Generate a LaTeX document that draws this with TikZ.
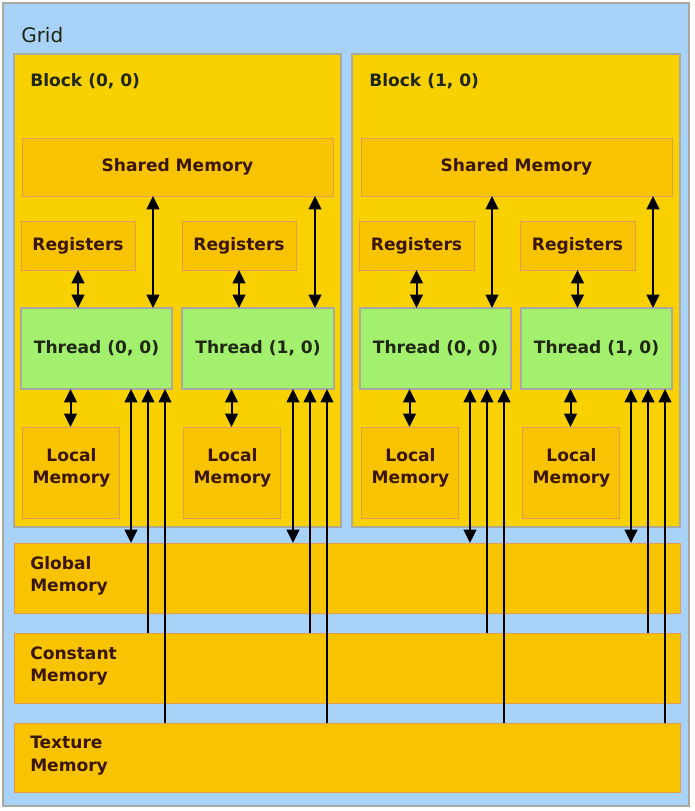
\documentclass[tikz,border=0pt]{standalone}
\usepackage{fontspec}
\setmainfont{DejaVu Sans}
\usetikzlibrary{arrows.meta,calc}
\definecolor{gridbg}{HTML}{A8D2F8}
\definecolor{blockfill}{HTML}{F9D100}
\definecolor{memfill}{HTML}{F8C300}
\definecolor{thrfill}{HTML}{A3F06F}
\definecolor{memborder}{HTML}{E49A50}
\definecolor{greyborder}{HTML}{A9A9A0}
\definecolor{labeltext}{HTML}{1F2710}
\definecolor{memtext}{HTML}{3A1600}
\newcommand\pxbox[7]{\node[#1, minimum width={#5*0.75pt}, minimum height={#6*0.75pt}] (#2) at (#3,#4) {#7};}
\begin{document}
\begin{tikzpicture}[x=0.75pt,y=-0.75pt,
  base/.style={anchor=north west, inner sep=0pt, outer sep=0pt},
  gridbox/.style={base, fill=gridbg, draw=greyborder, line width=1.1pt},
  blockbox/.style={base, fill=blockfill, draw=greyborder, line width=0.8pt},
  membox/.style={base, fill=memfill, draw=memborder, line width=0.7pt,
     font=\fontsize{12.8pt}{16.5pt}\selectfont\bfseries, text=memtext, align=center},
  thrbox/.style={base, fill=thrfill, draw=greyborder, line width=0.8pt,
     font=\fontsize{12.8pt}{16.5pt}\selectfont\bfseries, text=labeltext},
  lbl/.style={anchor=west, inner sep=0pt, font=\fontsize{12.8pt}{16.5pt}\selectfont\bfseries, text=labeltext},
  memlbl/.style={anchor=west, inner sep=0pt, align=left, font=\fontsize{12.8pt}{17pt}\selectfont\bfseries, text=memtext},
  loclbl/.style={inner sep=0pt, align=center, font=\fontsize{12.8pt}{16.5pt}\selectfont\bfseries, text=memtext},
  tip/.tip={Triangle[width=9.5pt,length=10pt]},
  dbl/.style={line width=1.5pt, tip-tip},
  sgl/.style={line width=1.5pt, -tip},
]
\useasboundingbox (0,0) rectangle (694,811);
% grid
\pxbox{gridbox}{grid}{3}{3}{686}{803}{}
\node[anchor=west, inner sep=0pt, font=\fontsize{15pt}{17pt}\selectfont, text=labeltext] (gridlbl) at (21,35) {Grid};
% blocks
\pxbox{blockbox}{blk0}{14}{54}{327}{473}{}
\pxbox{blockbox}{blk1}{352}{54}{328}{473}{}
\node[lbl] (blk0lbl) at (30,81) {Block (0, 0)};
\node[lbl] (blk1lbl) at (369,81) {Block (1, 0)};
% shared memory
\pxbox{membox}{sh0}{22}{138}{311}{58}{Shared Memory}
\pxbox{membox}{sh1}{361}{138}{311}{58}{Shared Memory}
% registers
\pxbox{membox}{reg00}{21}{221}{114}{49}{Registers}
\pxbox{membox}{reg01}{182}{221}{114}{49}{Registers}
\pxbox{membox}{reg10}{359}{221}{115}{49}{Registers}
\pxbox{membox}{reg11}{520}{221}{115}{49}{Registers}
% threads
\pxbox{thrbox}{thr00}{21}{308}{151}{81}{Thread (0, 0)}
\pxbox{thrbox}{thr01}{182}{308}{152}{81}{Thread (1, 0)}
\pxbox{thrbox}{thr10}{360}{308}{151}{81}{Thread (0, 0)}
\pxbox{thrbox}{thr11}{521}{308}{151}{81}{Thread (1, 0)}
% local memory
\pxbox{membox}{loc00}{22}{427}{97}{91}{}
\pxbox{membox}{loc01}{183}{427}{97}{91}{}
\pxbox{membox}{loc10}{361}{427}{97}{91}{}
\pxbox{membox}{loc11}{522}{427}{97}{91}{}
\foreach \n in {loc00,loc01,loc10,loc11}{
  \node[loclbl] (\n lbl) at ($(\n.center)+(1,-5)$) {Local\\Memory};
}
% global, constant, texture
\pxbox{membox}{glob}{14}{543}{666}{70}{}
\pxbox{membox}{const}{14}{633}{666}{70}{}
\pxbox{membox}{tex}{14}{723}{666}{69}{}
\node[memlbl] (globlbl) at ($(glob.west)+(16,-2)$) {Global\\Memory};
\node[memlbl] (constlbl) at ($(const.west)+(16,-2)$) {Constant\\Memory};
\node[memlbl] (texlbl) at ($(tex.west)+(16,-2)$) {Texture\\Memory};
% connectors
\foreach \b in {0,1}{
  \foreach \t in {0,1}{
    \draw[dbl] (reg\b\t.south) -- (reg\b\t.south |- thr\b\t.north);
    \draw[dbl] ($(thr\b\t.north east)+(-19,0)$) coordinate (s\b\t) -- (s\b\t |- sh\b.south);
    \draw[dbl] (thr\b\t.south -| loc\b\t.north) -- (loc\b\t.north);
    \draw[dbl] ($(thr\b\t.south east)+(-41,0)$) coordinate (g\b\t) -- (g\b\t |- glob.north);
    \coordinate (c\b\t) at ($(thr\b\t.south east)+(-24,0)$);
    \draw[sgl] (c\b\t |- const.north) -- (c\b\t);
    \coordinate (x\b\t) at ($(thr\b\t.south east)+(-7,0)$);
    \draw[sgl] (x\b\t |- tex.north) -- (x\b\t);
  }
}
\end{tikzpicture}
\end{document}
